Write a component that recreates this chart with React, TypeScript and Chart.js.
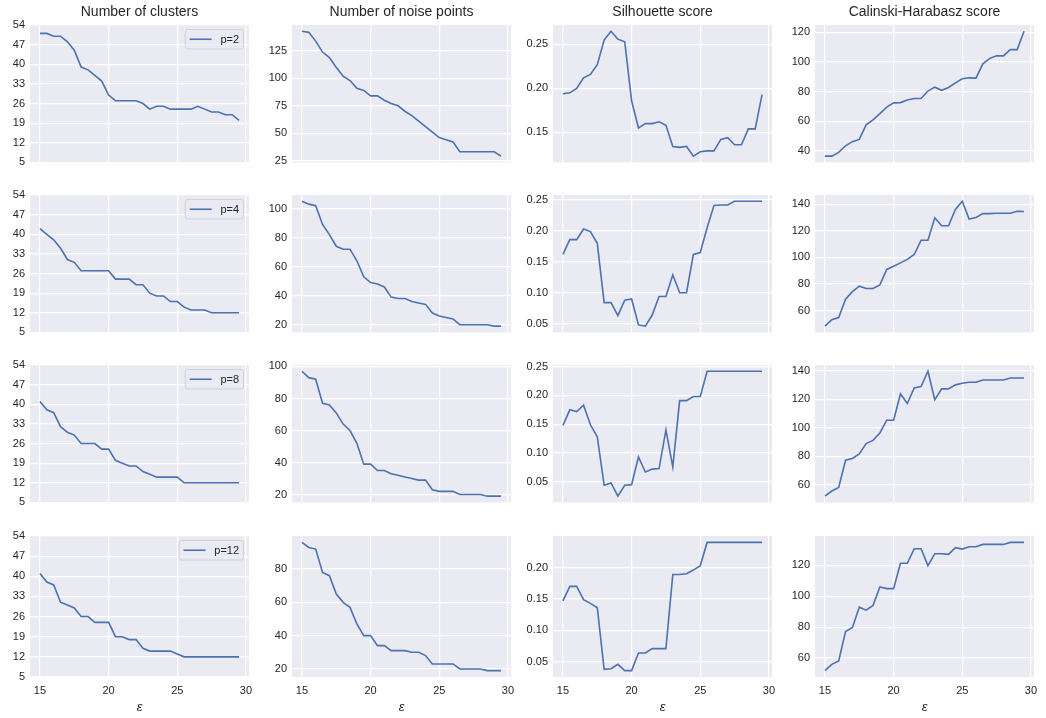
import React, { useEffect, useRef } from "react";
import { Chart, registerables } from "chart.js";
Chart.register(...registerables);

// ---------- data ----------
const epsilon = [15, 15.5, 16, 16.5, 17, 17.5, 18, 18.5, 19, 19.5, 20, 20.5, 21, 21.5, 22, 22.5, 23, 23.5, 24, 24.5, 25, 25.5, 26, 26.5, 27, 27.5, 28, 28.5, 29, 29.5];

const legendLabels = ["p=2", "p=4", "p=8", "p=12"];
const columnTitles = ["Number of clusters", "Number of noise points", "Silhouette score", "Calinski-Harabasz score"];

const clustersP2 = [51, 51, 50, 50, 48, 45, 39, 38, 36, 34, 29, 27, 27, 27, 27, 26, 24, 25, 25, 24, 24, 24, 24, 25, 24, 23, 23, 22, 22, 20];
const clustersP4 = [42, 40, 38, 35, 31, 30, 27, 27, 27, 27, 27, 24, 24, 24, 22, 22, 19, 18, 18, 16, 16, 14, 13, 13, 13, 12, 12, 12, 12, 12];
const clustersP8 = [41, 38, 37, 32, 30, 29, 26, 26, 26, 24, 24, 20, 19, 18, 18, 16, 15, 14, 14, 14, 14, 12, 12, 12, 12, 12, 12, 12, 12, 12];
const clustersP12 = [41, 38, 37, 31, 30, 29, 26, 26, 24, 24, 24, 19, 19, 18, 18, 15, 14, 14, 14, 14, 13, 12, 12, 12, 12, 12, 12, 12, 12, 12];

const noiseP2 = [143, 142, 134, 124, 119, 110, 102, 98, 91, 89, 84, 84, 80, 77, 75, 70, 66, 61, 56, 51, 46, 44, 42, 33, 33, 33, 33, 33, 33, 29];
const noiseP4 = [105, 103, 102, 89, 82, 74, 72, 72, 64, 53, 49, 48, 46, 39, 38, 38, 36, 35, 34, 28, 26, 25, 24, 20, 20, 20, 20, 20, 19, 19];
const noiseP8 = [97, 93, 92, 77, 76, 71, 64, 60, 52, 39, 39, 35, 35, 33, 32, 31, 30, 29, 29, 23, 22, 22, 22, 20, 20, 20, 20, 19, 19, 19];
const noiseP12 = [96, 93, 92, 78, 76, 65, 60, 57, 47, 40, 40, 34, 34, 31, 31, 31, 30, 30, 28, 23, 23, 23, 23, 20, 20, 20, 20, 19, 19, 19];

const silP2 = [0.194, 0.195, 0.2, 0.212, 0.216, 0.227, 0.255, 0.265, 0.256, 0.253, 0.186, 0.155, 0.16, 0.16, 0.162, 0.158, 0.134, 0.133, 0.134, 0.123, 0.128, 0.129, 0.129, 0.142, 0.144, 0.136, 0.136, 0.154, 0.154, 0.193];
const silP4 = [0.162, 0.186, 0.186, 0.203, 0.199, 0.18, 0.084, 0.084, 0.063, 0.088, 0.09, 0.048, 0.046, 0.064, 0.094, 0.094, 0.129, 0.1, 0.1, 0.162, 0.165, 0.205, 0.241, 0.242, 0.242, 0.248, 0.248, 0.248, 0.248, 0.248];
const silP8 = [0.148, 0.175, 0.172, 0.183, 0.149, 0.128, 0.044, 0.048, 0.025, 0.044, 0.045, 0.093, 0.067, 0.072, 0.073, 0.14, 0.076, 0.191, 0.191, 0.198, 0.198, 0.242, 0.242, 0.242, 0.242, 0.242, 0.242, 0.242, 0.242, 0.242];
const silP12 = [0.147, 0.17, 0.17, 0.149, 0.143, 0.136, 0.038, 0.039, 0.046, 0.036, 0.036, 0.064, 0.064, 0.071, 0.071, 0.071, 0.189, 0.189, 0.19, 0.196, 0.203, 0.24, 0.24, 0.24, 0.24, 0.24, 0.24, 0.24, 0.24, 0.24];

const chP2 = [36.5, 36.5, 39, 43.5, 46.3, 47.8, 57.6, 61, 65.2, 69.6, 72.4, 72.6, 74.3, 75.4, 75.4, 80.4, 83, 80.9, 82.8, 85.9, 88.7, 89.3, 89.1, 98.7, 102.4, 104.1, 104.1, 108.3, 108.3, 120.7];
const chP4 = [48.4, 53.2, 54.9, 68.7, 74.3, 78.4, 76.7, 76.7, 79.4, 91, 93.4, 95.9, 98.5, 102.2, 112.9, 112.9, 129.8, 123.8, 123.8, 136.1, 142.2, 128.8, 130, 132.9, 132.9, 133.2, 133.2, 133.2, 134.7, 134.5];
const chP8 = [51.8, 55.4, 57.9, 77.1, 78.3, 81.5, 88.8, 91.1, 96.3, 105.3, 105.3, 123.8, 117.1, 128.1, 129, 139.8, 119.7, 127.4, 127.4, 130.2, 131.3, 132, 132, 133.6, 133.6, 133.6, 133.6, 135, 135, 135];
const chP12 = [51.9, 55.9, 58.1, 77.2, 79.8, 92.9, 91, 94, 106, 104.9, 104.9, 121.3, 121.3, 130.7, 130.7, 119.8, 127.5, 127.5, 127.1, 131.4, 130.5, 132, 132, 133.5, 133.5, 133.5, 133.5, 134.8, 134.8, 134.8];

const xTicks = [15, 20, 25, 30];
const clusterTicks = [5, 12, 19, 26, 33, 40, 47, 54];
const noiseTicksP2 = [25, 50, 75, 100, 125];
const noiseTicksP4 = [20, 40, 60, 80, 100];
const noiseTicksP8 = [20, 40, 60, 80, 100];
const noiseTicksP12 = [20, 40, 60, 80];
const silTicksP2 = [0.15, 0.2, 0.25];
const silTicksP4 = [0.05, 0.1, 0.15, 0.2, 0.25];
const silTicksP8 = [0.05, 0.1, 0.15, 0.2, 0.25];
const silTicksP12 = [0.05, 0.1, 0.15, 0.2];
const chTicksP2 = [40, 60, 80, 100, 120];
const chTicksP4 = [60, 80, 100, 120, 140];
const chTicksP8 = [60, 80, 100, 120, 140];
const chTicksP12 = [60, 80, 100, 120];

const seriesGrid = [
  [clustersP2, noiseP2, silP2, chP2],
  [clustersP4, noiseP4, silP4, chP4],
  [clustersP8, noiseP8, silP8, chP8],
  [clustersP12, noiseP12, silP12, chP12],
];
const tickGrid = [
  [clusterTicks, noiseTicksP2, silTicksP2, chTicksP2],
  [clusterTicks, noiseTicksP4, silTicksP4, chTicksP4],
  [clusterTicks, noiseTicksP8, silTicksP8, chTicksP8],
  [clusterTicks, noiseTicksP12, silTicksP12, chTicksP12],
];

// ---------- layout / style ----------
const FONT = "'Liberation Sans', Arial, sans-serif";
const TEXT = "#262626";
const LINE = "#4C72B0";
const PANEL = "#EAEAF2";
const colLefts = [30, 292, 553, 815];
const rowTops = [25, 195, 365, 536];
const AX_W = 219;
const AX_H = 141;
const YW = 50;
const RP = 12;
const TOP = 25;
const XH_BOTTOM = 40;
const XH = 8;

const bgPlugin = {
  id: "panelBg",
  beforeDraw(chart: any) {
    const { ctx, chartArea: a } = chart;
    ctx.save();
    ctx.fillStyle = PANEL;
    ctx.fillRect(a.left, a.top, a.right - a.left, a.bottom - a.top);
    ctx.restore();
  },
};

const titlePlugin = {
  id: "panelTitle",
  afterDraw(chart: any, _args: any, opts: any) {
    if (!opts || !opts.text) return;
    const { ctx, chartArea: a } = chart;
    ctx.save();
    ctx.font = `14px ${FONT}`;
    ctx.fillStyle = TEXT;
    ctx.textAlign = "center";
    ctx.textBaseline = "middle";
    ctx.fillText(opts.text, (a.left + a.right) / 2, a.top - 12.5);
    ctx.restore();
  },
};

const legendPlugin = {
  id: "panelLegend",
  afterDatasetsDraw(chart: any, _args: any, opts: any) {
    if (!opts || !opts.show) return;
    const { ctx, chartArea: a } = chart;
    const label = chart.data.datasets[0].label as string;
    const fs = 11;
    const pad = 4.4;
    const handle = 22;
    const gap = 8.8;
    ctx.save();
    ctx.font = `${fs}px ${FONT}`;
    const tw = ctx.measureText(label).width;
    const w = pad * 2 + handle + gap + tw;
    const h = 19.5;
    const x1 = a.right - 5.5 - w;
    const y1 = a.top + 4.5;
    const r = 2.5;
    ctx.beginPath();
    ctx.moveTo(x1 + r, y1);
    ctx.lineTo(x1 + w - r, y1);
    ctx.arcTo(x1 + w, y1, x1 + w, y1 + r, r);
    ctx.lineTo(x1 + w, y1 + h - r);
    ctx.arcTo(x1 + w, y1 + h, x1 + w - r, y1 + h, r);
    ctx.lineTo(x1 + r, y1 + h);
    ctx.arcTo(x1, y1 + h, x1, y1 + h - r, r);
    ctx.lineTo(x1, y1 + r);
    ctx.arcTo(x1, y1, x1 + r, y1, r);
    ctx.closePath();
    ctx.fillStyle = "rgba(234,234,242,0.8)";
    ctx.fill();
    ctx.strokeStyle = "rgba(204,204,204,0.8)";
    ctx.lineWidth = 1;
    ctx.stroke();
    ctx.beginPath();
    ctx.moveTo(x1 + pad, y1 + h / 2);
    ctx.lineTo(x1 + pad + handle, y1 + h / 2);
    ctx.strokeStyle = LINE;
    ctx.lineWidth = 1.6;
    ctx.stroke();
    ctx.fillStyle = TEXT;
    ctx.textAlign = "left";
    ctx.textBaseline = "middle";
    ctx.fillText(label, x1 + pad + handle + gap, y1 + h / 2 + 0.5);
    ctx.restore();
  },
};

type PanelProps = { row: number; col: number };

function Panel({ row, col }: PanelProps) {
  const ref = useRef<HTMLCanvasElement | null>(null);
  const isBottom = row === 3;
  const xh = isBottom ? XH_BOTTOM : XH;
  const width = YW + AX_W + RP;
  const height = TOP + AX_H + xh;
  const left = colLefts[col] - YW;
  const top = rowTops[row] - TOP;

  useEffect(() => {
    if (!ref.current) return;
    const values = seriesGrid[row][col];
    const yTicks = tickGrid[row][col];
    let yMin: number;
    let yMax: number;
    if (col === 0) {
      yMin = clusterTicks[0];
      yMax = clusterTicks[clusterTicks.length - 1];
    } else {
      const lo = Math.min(...values);
      const hi = Math.max(...values);
      const m = (hi - lo) * 0.05;
      yMin = lo - m;
      yMax = hi + m;
    }
    const xLo = epsilon[0] - (epsilon[epsilon.length - 1] - epsilon[0]) * 0.05;
    const xHi = epsilon[epsilon.length - 1] + (epsilon[epsilon.length - 1] - epsilon[0]) * 0.05;
    const decimals = col === 2;

    const chart = new Chart(ref.current, {
      type: "line",
      data: {
        datasets: [
          {
            label: legendLabels[row],
            data: epsilon.map((x, i) => ({ x, y: values[i] })),
            borderColor: LINE,
            borderWidth: 1.6,
            pointRadius: 0,
            tension: 0,
            fill: false,
          },
        ],
      },
      options: {
        responsive: false,
        animation: false,
        layout: { padding: { top: TOP, right: RP, left: 0, bottom: 0 } },
        plugins: {
          legend: { display: false },
          tooltip: { enabled: false },
          title: { display: false },
          panelTitle: { text: row === 0 ? columnTitles[col] : "" },
          panelLegend: { show: col === 0 },
        } as any,
        scales: {
          x: {
            type: "linear",
            min: xLo,
            max: xHi,
            afterBuildTicks: (s: any) => {
              s.ticks = xTicks.map((v) => ({ value: v }));
            },
            afterFit: (s: any) => {
              s.height = xh;
            },
            grid: { color: "#ffffff", lineWidth: 1.2, drawTicks: false },
            border: { display: false },
            ticks: {
              display: isBottom,
              padding: 7,
              color: TEXT,
              autoSkip: false,
              maxRotation: 0,
              font: { family: FONT, size: 11 },
              callback: (v: any) => String(v),
            },
            title: {
              display: isBottom,
              text: "ε",
              color: TEXT,
              font: { family: FONT, size: 13, style: "italic" },
              padding: { top: 0, bottom: 2 },
            },
          },
          y: {
            type: "linear",
            min: yMin,
            max: yMax,
            afterBuildTicks: (s: any) => {
              s.ticks = yTicks.map((v) => ({ value: v }));
            },
            afterFit: (s: any) => {
              s.width = YW;
            },
            grid: { color: "#ffffff", lineWidth: 1.2, drawTicks: false },
            border: { display: false },
            ticks: {
              padding: 5,
              color: TEXT,
              autoSkip: false,
              font: { family: FONT, size: 11 },
              callback: (v: any) => (decimals ? Number(v).toFixed(2) : String(v)),
            },
          },
        },
      },
      plugins: [bgPlugin, titlePlugin, legendPlugin],
    });
    return () => chart.destroy();
  }, [row, col]);

  return (
    <canvas
      ref={ref}
      width={width}
      height={height}
      style={{ position: "absolute", left, top, width, height }}
    />
  );
}

export default function App() {
  const panels = [];
  for (let r = 0; r < 4; r++) {
    for (let c = 0; c < 4; c++) {
      panels.push(<Panel key={`${r}-${c}`} row={r} col={c} />);
    }
  }
  return (
    <div
      style={{
        position: "fixed",
        left: 0,
        top: 0,
        width: 1046,
        height: 718,
        background: "#ffffff",
        overflow: "hidden",
      }}
    >
      {panels}
    </div>
  );
}
